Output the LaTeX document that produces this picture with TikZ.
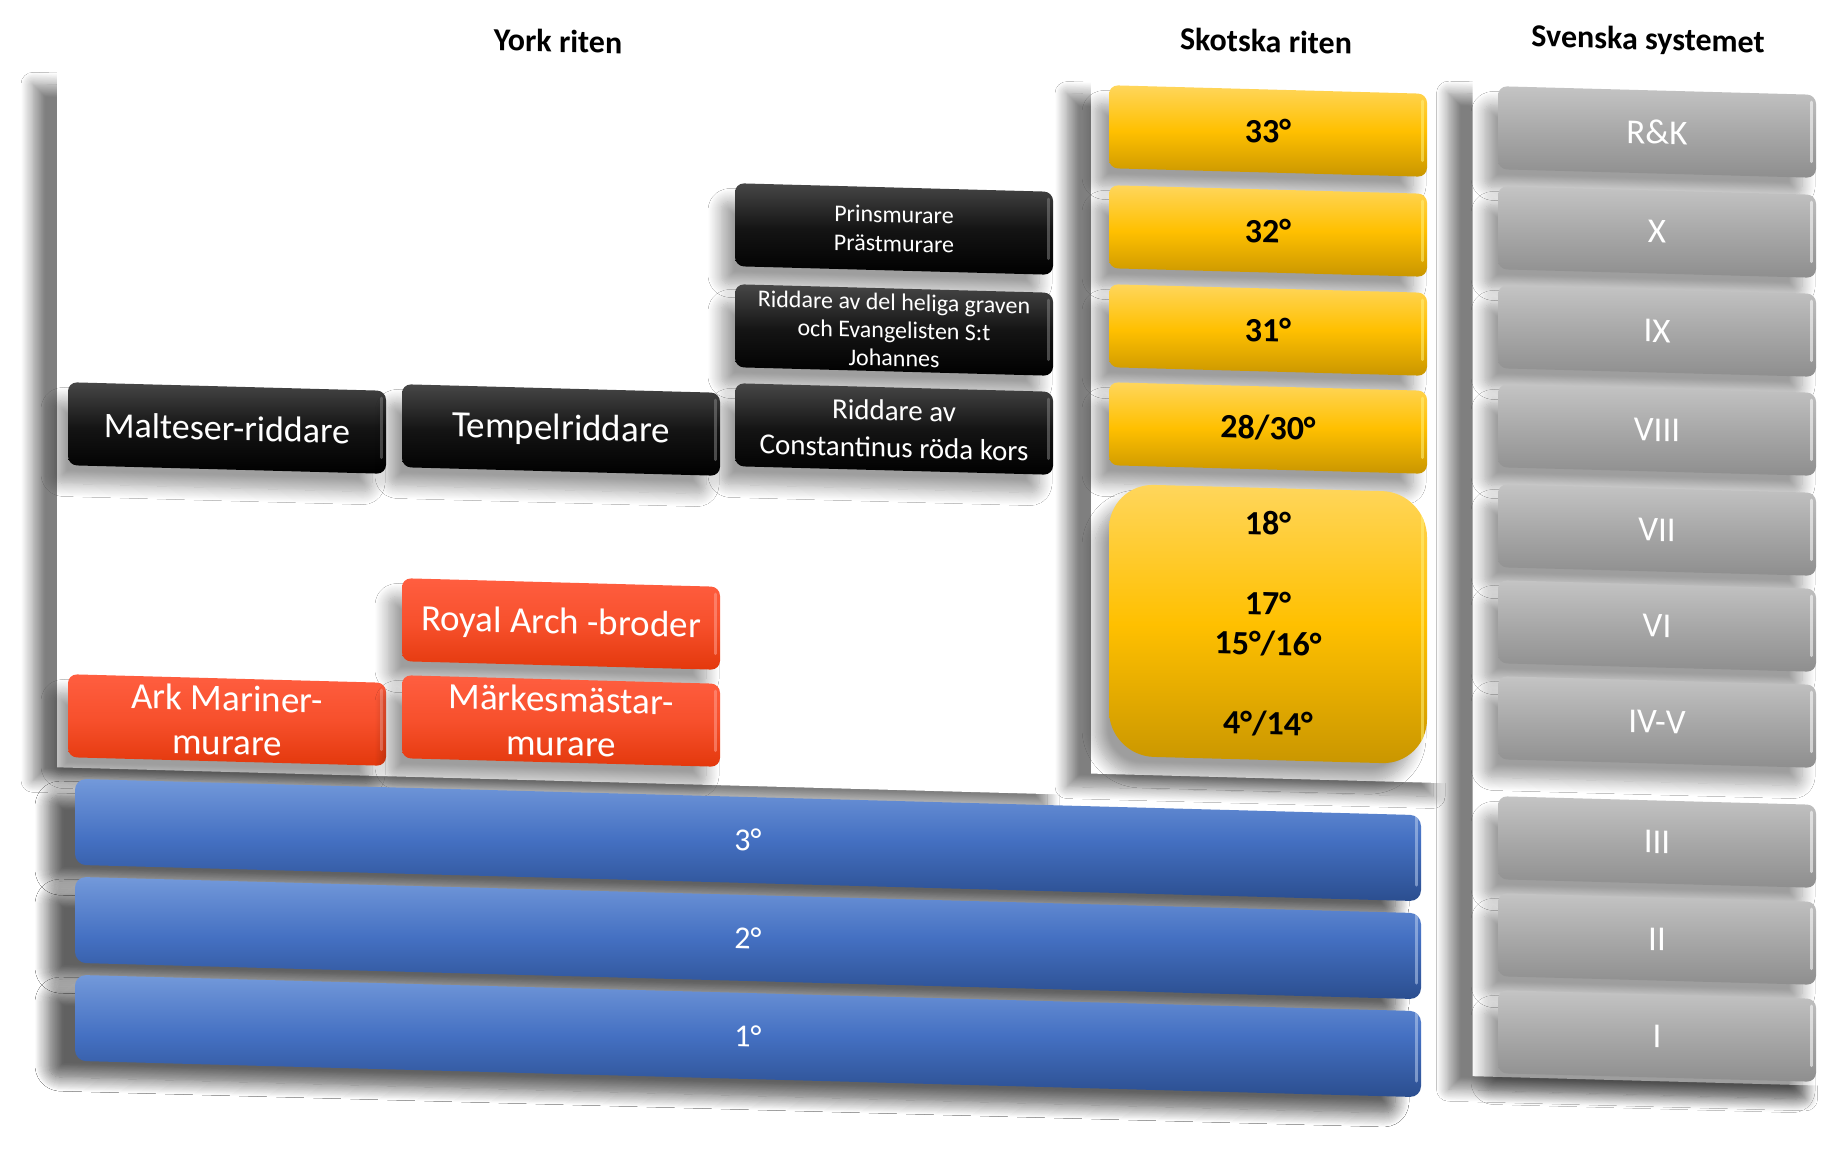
\documentclass[tikz,border=0pt]{standalone}
\usepackage{fontspec}
\setmainfont{Carlito}
\usetikzlibrary{shadows.blur}
\definecolor{blk1}{HTML}{474747}
\definecolor{blk2}{HTML}{141414}
\definecolor{blk3}{HTML}{000000}
\definecolor{yel1}{HTML}{FFD65C}
\definecolor{yel2}{HTML}{FFC000}
\definecolor{yel3}{HTML}{C99600}
\definecolor{yelhi}{HTML}{FFF07A}
\definecolor{gry1}{HTML}{C4C4C4}
\definecolor{gry2}{HTML}{A8A8A8}
\definecolor{gry3}{HTML}{8E8E8E}
\definecolor{blu1}{HTML}{7399DA}
\definecolor{blu2}{HTML}{4470C2}
\definecolor{blu3}{HTML}{2B4E8F}
\definecolor{red1}{HTML}{FF5E40}
\definecolor{red2}{HTML}{F7502C}
\definecolor{red3}{HTML}{E3380C}
\begin{document}
\begin{tikzpicture}[x=1pt,y=-1pt,
  sk/.style={yslant=-0.027},
  panel/.style={fill=white, sk, minimum width=#1, inner sep=0pt,
    blur shadow={shadow xshift=-24pt, shadow yshift=-13pt, shadow blur radius=12pt, shadow blur steps=14, shadow opacity=50}},
  gloss/.style={path picture={
    \draw[#1, line width=3pt, line cap=round, opacity=0.55]
      ([xshift=-5pt,yshift=-16pt]path picture bounding box.north east) --
      ([xshift=-5pt,yshift=16pt]path picture bounding box.south east);}},
  boxbase/.style={rounded corners=9pt, minimum width=318pt, minimum height=83pt,
    inner sep=2pt, align=center, sk,
    blur shadow={shadow xshift=-14pt, shadow yshift=-18pt, shadow blur radius=13pt, shadow blur steps=14, shadow opacity=38}},
  blackbox/.style={boxbase, top color=blk1, bottom color=blk3, middle color=blk2, text=white, gloss=gray},
  redbox/.style={boxbase, top color=red1, bottom color=red3, middle color=red2, text=white,
    font=\fontsize{37}{44}\selectfont, gloss=red1!60!white},
  yelbox/.style={boxbase, top color=yel1, bottom color=yel3, middle color=yel2, text=black,
    font=\fontsize{34}{40}\selectfont\bfseries, gloss=yelhi},
  grybox/.style={boxbase, top color=gry1, bottom color=gry3, middle color=gry2, text=white,
    font=\fontsize{35}{40}\selectfont, gloss=white},
  blubar/.style={boxbase, minimum width=1346pt, minimum height=86pt, rounded corners=11pt,
    top color=blu1, bottom color=blu3, middle color=blu2, text=white,
    font=\fontsize{32}{36}\selectfont, gloss=blu1!50!white,
    blur shadow={shadow xshift=-26pt, shadow yshift=-16pt, shadow blur radius=14pt, shadow blur steps=14, shadow opacity=38}},
  head/.style={font=\fontsize{32}{38}\selectfont\bfseries, text=black, sk}
]
\useasboundingbox (0,0) rectangle (1842,1151);
\fill[white] (0,0) rectangle (1842,1151);

% panels
\node[panel=1014pt, minimum height=696pt] (yorkpanel) at (564,433) {};
\node[panel=366pt, minimum height=693pt] (skotpanel) at (1274,432) {};
\node[panel=357pt, minimum height=996pt] (svenpanel) at (1651,583) {};

% headings
\node[head] (hyork) at (558,41) {York riten};
\node[head] (hskot) at (1266,41) {Skotska riten};
\node[head] (hsven) at (1648,41) {Svenska systemet};

% York rite boxes
\node[blackbox, font=\fontsize{24}{29}\selectfont] (prins) at (894,229) {Prinsmurare\\Prästmurare};
\node[blackbox, font=\fontsize{24}{28}\selectfont, text depth=0pt] (graven) at (894,330) {Riddare av del heliga graven\\och Evangelisten S:t\\Johannes};
\node[blackbox, font=\fontsize{29}{37}\selectfont] (const) at (894,429) {Riddare av\\Constantinus röda kors};
\node[blackbox, font=\fontsize{36}{42}\selectfont] (malt) at (227,428) {Malteser-riddare};
\node[blackbox, font=\fontsize{37}{42}\selectfont] (tempel) at (561,430) {Tempelriddare};
\node[redbox] (royal) at (561,624) {Royal Arch -broder};
\node[redbox] (ark) at (227,720) {Ark Mariner-\\murare};
\node[redbox] (mark) at (561,721) {Märkesmästar-\\murare};

% Scottish rite
\node[yelbox] (s33) at (1268,131) {33°};
\node[yelbox] (s32) at (1268,231) {32°};
\node[yelbox] (s31) at (1268,330) {31°};
\node[yelbox] (s28) at (1268,428) {28/30°};
\node[yelbox, rounded corners=45pt, minimum height=272pt] (s18) at (1268,624)
  {18°\\\mbox{}\\17°\\15°/16°\\\mbox{}\\4°/14°};

% Swedish system
\node[grybox] (rk) at (1657,132) {R\&K};
\node[grybox] (g10) at (1657,232) {X};
\node[grybox] (g9) at (1657,331) {IX};
\node[grybox] (g8) at (1657,430) {VIII};
\node[grybox] (g7) at (1657,530) {VII};
\node[grybox] (g6) at (1657,626) {VI};
\node[grybox] (g45) at (1657,722) {IV-V};
\node[grybox] (g3) at (1657,842) {III};
\node[grybox] (g2) at (1657,939) {II};
\node[grybox] (g1) at (1657,1036) {I};

% craft degrees
\node[blubar] (b3) at (748,840) {3°};
\node[blubar] (b2) at (748,938) {2°};
\node[blubar] (b1) at (748,1036) {1°};
\end{tikzpicture}
\end{document}
